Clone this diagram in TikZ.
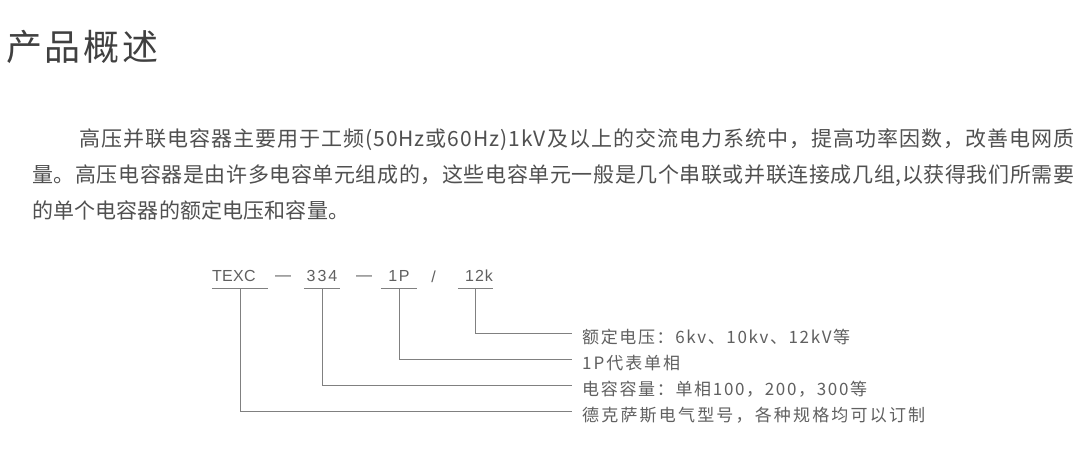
\documentclass[tikz,border=0pt]{standalone}
\usepackage{fontspec}
\setmainfont{Noto Sans CJK SC}
\newfontfamily\codefont{Liberation Sans}
\makeatletter
\newcommand\spreadbox[2]{\hbox to #1{\@tfor\sp@c:=#2\do{\sp@c\hskip 0pt plus 1fil minus 1fil}\unskip}}
\newcommand\spaced[2]{\@tfor\sp@c:=#2\do{\sp@c\hskip #1}\unskip}
\makeatother
\definecolor{titlegray}{HTML}{404040}
\definecolor{textgray}{HTML}{505050}
\definecolor{labgray}{HTML}{606060}
\definecolor{linegray}{HTML}{808080}
\begin{document}
\begin{tikzpicture}[x=1pt,y=-1pt,
  titlestyle/.style={anchor=base west, inner sep=0pt, text=titlegray, font=\fontsize{36}{40}\selectfont},
  para/.style={anchor=base west, inner sep=0pt, text=textgray, font=\fontsize{21}{24}\selectfont},
  codebox/.style={anchor=south, inner xsep=0pt, inner ysep=0pt, text height=12pt, text depth=6pt, text=labgray, font=\codefont\fontsize{16}{18}\selectfont},
  codesep/.style={anchor=base, inner sep=0pt, text=labgray, font=\codefont\fontsize{16}{18}\selectfont},
  underl/.style={draw=linegray, line width=1pt},
  conn/.style={draw=linegray, line width=1pt},
  label/.style={anchor=west, inner xsep=10pt, inner ysep=0pt, text height=20pt, text depth=0pt, text=labgray, font=\fontsize{17}{20}\selectfont}
]
\fill[white] (0,0) rectangle (1080,455);
\useasboundingbox (0,0) rectangle (1080,455);

% title
\node[titlestyle] (title) at (6,60) {\spreadbox{152pt}{产品概述}};

% paragraph
\node[para] (p1) at (79,146) {\spreadbox{995pt}{高压并联电容器主要用于工频(50Hz或60Hz)1kV及以上的交流电力系统中，提高功率因数，改善电网质}};
\node[para] (p2) at (32,182) {\spreadbox{1042pt}{量。高压电容器是由许多电容单元组成的，这些电容单元一般是几个串联或并联连接成几组,以获得我们所需要}};
\node[para] (p3) at (32,218) {\spreadbox{317pt}{的单个电容器的额定电压和容量。}};

% code row
\node[codebox, text width=56pt, align=left] (texc) at (240,288) {\spaced{0.3pt}{TEXC}};
\node[codebox, text width=36pt, align=center] (c334) at (322,288) {\spaced{2pt}{334}};
\node[codebox, text width=36pt, align=center] (c1p) at (399,288) {\spaced{1.5pt}{1P}};
\node[codebox, text width=35pt, align=right] (c12k) at (475.5,288) {\spaced{1pt}{12k}};
\node[codesep] (d1) at (283,282) {\raisebox{2pt}{—}};
\node[codesep] (d2) at (364,282) {\raisebox{2pt}{—}};
\node[codesep] (sl) at (433.5,282) {/};

\foreach \n in {texc,c334,c1p,c12k}
  \draw[underl] (\n.south west) -- (\n.south east);

% labels
\node[label] (lab1) at (572,333) {\spreadbox{268pt}{额定电压：6kv、10kv、12kV等}};
\node[label] (lab2) at (572,359) {\spreadbox{98pt}{1P代表单相}};
\node[label] (lab3) at (572,385) {\spreadbox{285pt}{电容容量：单相100，200，300等}};
\node[label] (lab4) at (572,411) {\spreadbox{343pt}{德克萨斯电气型号，各种规格均可以订制}};

% connectors
\draw[conn] (c12k.south) |- (lab1.west);
\draw[conn] (c1p.south) |- (lab2.west);
\draw[conn] (c334.south) |- (lab3.west);
\draw[conn] (texc.south) |- (lab4.west);
\end{tikzpicture}
\end{document}
